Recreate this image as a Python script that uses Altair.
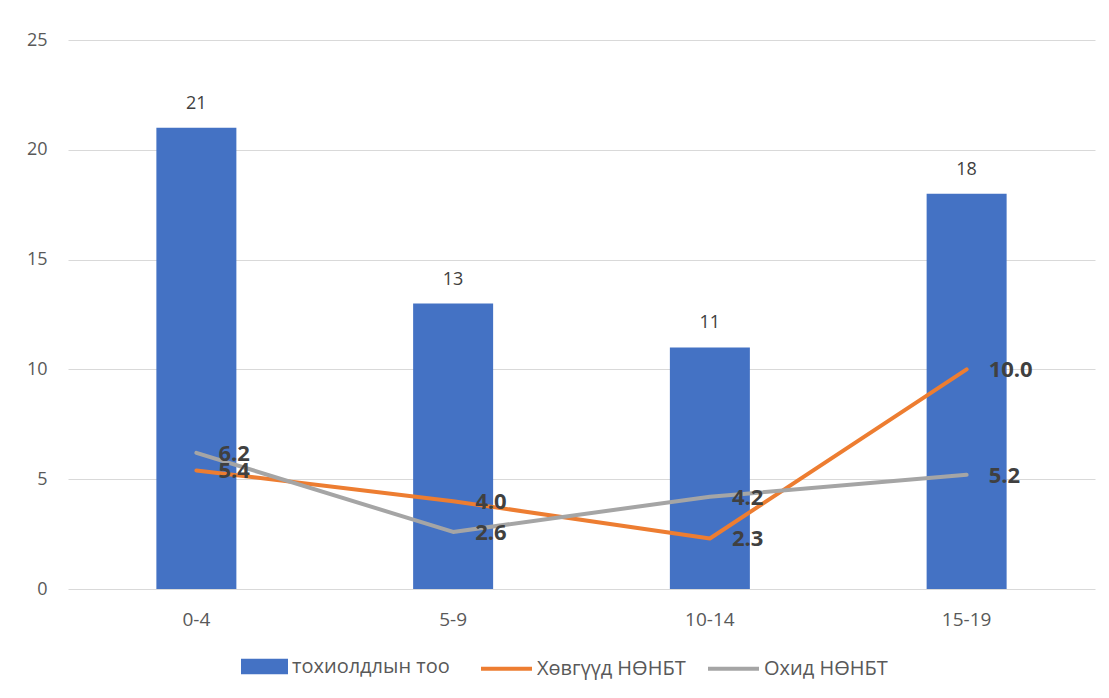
import altair as alt
import pandas as pd

categories = ["0-4", "5-9", "10-14", "15-19"]
cases = [21, 13, 11, 18]
boys = [5.4, 4.0, 2.3, 10.0]
girls = [6.2, 2.6, 4.2, 5.2]

s_bar = "тохиолдлын тоо"
s_boys = "Хөвгүүд НӨНБТ"
s_girls = "Охид НӨНБТ"

bar_df = pd.DataFrame({"cat": categories, "series": s_bar, "value": cases,
                       "label": [str(v) for v in cases]})
line_df = pd.concat([
    pd.DataFrame({"cat": categories, "series": s_boys, "value": boys,
                  "label": [f"{v:.1f}" for v in boys]}),
    pd.DataFrame({"cat": categories, "series": s_girls, "value": girls,
                  "label": [f"{v:.1f}" for v in girls]}),
])

FONT = "Open Sans"

x = alt.X("cat:N", sort=categories, title=None,
          scale=alt.Scale(paddingInner=0.69, paddingOuter=0.345),
          axis=alt.Axis(labelAngle=0, ticks=False, domain=False, labelPadding=21,
                        labelFontSize=19, labelColor="#595959", labelFont=FONT))
y = alt.Y("value:Q", title=None, scale=alt.Scale(domain=[0, 25], nice=False),
          axis=alt.Axis(values=[0, 5, 10, 15, 20, 25], ticks=False, domain=False,
                        labelPadding=21, labelFontSize=18, labelColor="#595959",
                        labelFont=FONT, gridColor="#d9d9d9", gridWidth=1))
xs = alt.X("cat:N", sort=categories)
ys = alt.Y("value:Q")

bar_leg = alt.Legend(title=None, orient="none", legendX=173, legendY=603,
                     direction="horizontal", labelFontSize=20, labelColor="#595959",
                     labelFont=FONT, symbolType="M-1,-0.33H1V0.33H-1Z", symbolSize=2209,
                     symbolStrokeWidth=0, symbolOpacity=1, labelOffset=4, padding=0)
line_leg = alt.Legend(title=None, orient="none", legendX=411, legendY=601,
                      direction="horizontal", labelFontSize=20, labelColor="#595959",
                      labelFont=FONT, symbolType="stroke", symbolSize=2601,
                      symbolStrokeWidth=4, labelOffset=3, columnPadding=14, padding=0)

bars = alt.Chart(bar_df).mark_bar(size=80).encode(
    x=x, y=y,
    fill=alt.Fill("series:N", scale=alt.Scale(domain=[s_bar], range=["#4472C4"]), legend=bar_leg))
bar_text = alt.Chart(bar_df).mark_text(
    dy=-24, fontSize=18, color="#404040", font=FONT).encode(
    x=xs, y=ys, text="label:N")
lines = alt.Chart(line_df).mark_line(
    strokeWidth=4, strokeCap="round", strokeJoin="round").encode(
    x=xs, y=ys,
    stroke=alt.Stroke("series:N", scale=alt.Scale(domain=[s_boys, s_girls],
                                                 range=["#ED7D31", "#A5A5A5"]),
                      legend=line_leg))
line_text = alt.Chart(line_df).mark_text(
    align="left", baseline="middle", dx=22, dy=1, fontSize=22, fontWeight="bold",
    color="#404040", font=FONT).encode(
    x=xs, y=ys, text="label:N")

chart = alt.layer(bars, bar_text, lines, line_text).properties(
    width=1027, height=549,
    autosize=alt.AutoSizeParams(type="none"),
    padding={"left": 60, "top": 32, "right": 6, "bottom": 101},
    background="white",
).configure_view(stroke=None)

chart.save("out.html", embed_options={"renderer": "svg", "actions": False})
